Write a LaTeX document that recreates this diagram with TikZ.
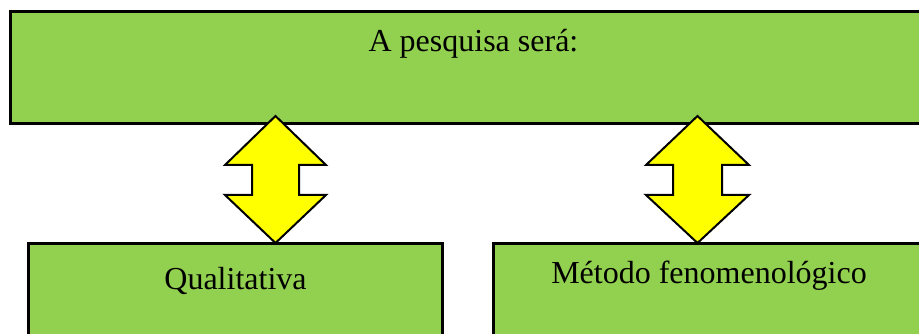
\documentclass[tikz,border=0pt]{standalone}
\usepackage{fontspec}
\setmainfont{Liberation Serif}
\definecolor{boxgreen}{HTML}{92D050}
\definecolor{arrowyellow}{HTML}{FFFF00}
\tikzset{
  greenbox/.style={draw=black, line width=3pt, fill=boxgreen, rectangle, inner sep=0pt},
  boxtext/.style={anchor=base, font=\fontsize{32}{38}\selectfont, inner sep=0pt},
  dblarrow/.style={draw=black, line width=2pt, fill=arrowyellow, line join=miter}
}
\begin{document}
\begin{tikzpicture}[x=1pt,y=-1pt]
\useasboundingbox (0,0) rectangle (919,334);
\clip (0,0) rectangle (919,334);
% boxes
\node[greenbox, minimum width=927pt, minimum height=112pt] (top) at (473.5,68) {};
\node[greenbox, minimum width=414pt, minimum height=120pt] (left) at (235.6,303) {};
\node[greenbox, minimum width=432pt, minimum height=120pt] (right) at (709,303) {};
% texts
\node[boxtext] (ttop) at (473.5,51.7) {A pesquisa será:};
\node[boxtext] (tleft) at (235.5,289) {Qualitativa};
\node[boxtext] (tright) at (709,283.3) {Método fenomenológico};
% arrows
\coordinate (a1) at (275.5,116);
\coordinate (a2) at (697.5,116);
\draw[dblarrow] (a1) -- ++(50.5,49) -- ++(-27,0) -- ++(0,30) -- ++(27,0) -- ++(-50.5,48)
  -- ++(-50.5,-48) -- ++(27,0) -- ++(0,-30) -- ++(-27,0) -- cycle;
\draw[dblarrow] (a2) -- ++(51.5,49) -- ++(-27,0) -- ++(0,30) -- ++(27,0) -- ++(-51.5,48)
  -- ++(-51.5,-48) -- ++(27,0) -- ++(0,-30) -- ++(-27,0) -- cycle;
\end{tikzpicture}
\end{document}
